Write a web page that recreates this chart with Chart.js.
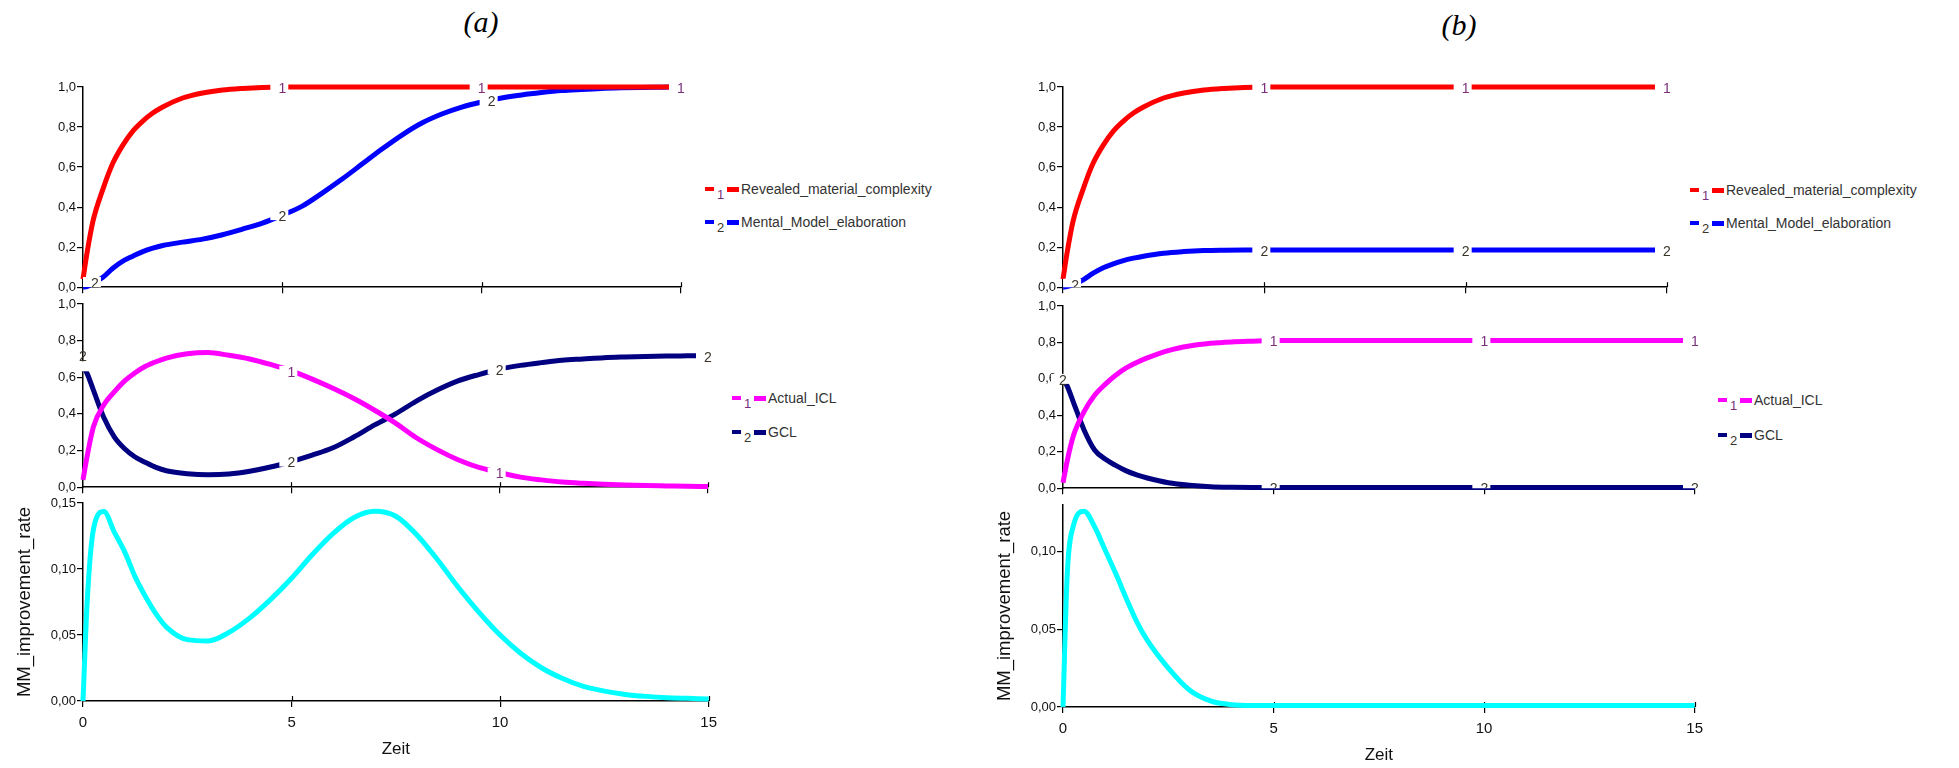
<!DOCTYPE html>
<html>
<head>
<meta charset="utf-8">
<script src="https://cdn.jsdelivr.net/npm/chart.js@4.4.1/dist/chart.umd.min.js"></script>
<style>
  body { margin:0; background:#fff; width:1959px; height:768px; position:relative; overflow:hidden; font-family:"Liberation Sans", Arial, sans-serif; }
  .box { position:absolute; }
  .panel-title { position:absolute; font: italic 30px "Liberation Serif", "Times New Roman", serif; transform: translate(-50%, -50%); color:#000; }
  .legend { position:absolute; font-size:14px; color:#333; white-space:nowrap; transform: translateY(-50%); display:flex; align-items:center; }
  .legend .d1 { display:inline-block; width:9px; height:4px; }
  .legend .n { display:inline-block; width:13px; text-align:center; font-size:13px; position:relative; top:5px; }
  .legend .d2 { display:inline-block; width:12px; height:5px; margin-right:2px; }
</style>
</head>
<body>
<div class="panel-title" style="left:481px;top:22px">(a)</div>
<div class="panel-title" style="left:1459px;top:25px">(b)</div>
<script>
// time axis (Zeit) and tick values
const time = [0, 0.1, 0.25, 0.5, 0.75, 1, 1.25, 1.5, 1.75, 2, 2.5, 3, 3.5, 4, 4.5, 5, 5.5, 6, 6.5, 7, 7.5, 8, 8.5, 9, 9.5, 10, 10.5, 11, 11.5, 12, 12.5, 13, 13.5, 14, 14.5, 15];
const xTicks = [0, 5, 10, 15];
const unitTicks = [0, 0.2, 0.4, 0.6, 0.8, 1.0];
const rateTicksA = [0, 0.05, 0.10, 0.15];
const rateTicksB = [0, 0.05, 0.10];

// panel (a)
const revealedA = [0.04, 0.17, 0.33, 0.49, 0.62, 0.71, 0.78, 0.83, 0.87, 0.90, 0.945, 0.97, 0.985, 0.993, 0.998, 1, 1, 1, 1, 1, 1, 1, 1, 1, 1, 1, 1, 1, 1, 1, 1, 1, 1, 1, 1, 1];
const elaborationA = [0, 0.003, 0.02, 0.05, 0.095, 0.13, 0.155, 0.178, 0.195, 0.208, 0.225, 0.24, 0.262, 0.29, 0.32, 0.36, 0.405, 0.47, 0.54, 0.615, 0.69, 0.76, 0.82, 0.865, 0.90, 0.925, 0.945, 0.96, 0.972, 0.982, 0.988, 0.993, 0.996, 0.998, 0.999, 1.0];
const actualIclA = [0.04, 0.17, 0.33, 0.45, 0.52, 0.58, 0.625, 0.66, 0.685, 0.705, 0.728, 0.735, 0.72, 0.70, 0.67, 0.635, 0.59, 0.54, 0.484, 0.42, 0.35, 0.27, 0.205, 0.15, 0.108, 0.08, 0.055, 0.04, 0.028, 0.021, 0.016, 0.012, 0.009, 0.007, 0.005, 0.004];
const gclA = [0.66, 0.62, 0.53, 0.38, 0.275, 0.21, 0.165, 0.135, 0.108, 0.09, 0.074, 0.068, 0.072, 0.087, 0.11, 0.14, 0.175, 0.215, 0.274, 0.34, 0.40, 0.47, 0.53, 0.58, 0.615, 0.645, 0.665, 0.68, 0.693, 0.70, 0.707, 0.711, 0.714, 0.716, 0.717, 0.718];
const rateA = [0, 0.075, 0.13, 0.1435, 0.128, 0.113, 0.094, 0.079, 0.066, 0.056, 0.0465, 0.0455, 0.052, 0.063, 0.077, 0.093, 0.111, 0.127, 0.139, 0.1437, 0.14, 0.126, 0.107, 0.086, 0.067, 0.05, 0.036, 0.025, 0.017, 0.011, 0.0075, 0.005, 0.0035, 0.0025, 0.002, 0.0015];

// panel (b)
const revealedB = [0.04, 0.17, 0.33, 0.49, 0.62, 0.71, 0.78, 0.83, 0.87, 0.90, 0.945, 0.97, 0.985, 0.993, 0.998, 1, 1, 1, 1, 1, 1, 1, 1, 1, 1, 1, 1, 1, 1, 1, 1, 1, 1, 1, 1, 1];
const elaborationB = [0, 0.003, 0.012, 0.037, 0.07, 0.097, 0.117, 0.133, 0.145, 0.155, 0.17, 0.178, 0.183, 0.185, 0.186, 0.186, 0.186, 0.186, 0.186, 0.186, 0.186, 0.186, 0.186, 0.186, 0.186, 0.186, 0.186, 0.186, 0.186, 0.186, 0.186, 0.186, 0.186, 0.186, 0.186, 0.186];
const actualIclB = [0.03, 0.15, 0.29, 0.42, 0.51, 0.57, 0.62, 0.66, 0.69, 0.715, 0.755, 0.78, 0.795, 0.803, 0.807, 0.81, 0.81, 0.81, 0.81, 0.81, 0.81, 0.81, 0.81, 0.81, 0.81, 0.81, 0.81, 0.81, 0.81, 0.81, 0.81, 0.81, 0.81, 0.81, 0.81, 0.81];
const gclB = [0.60, 0.56, 0.47, 0.32, 0.21, 0.16, 0.125, 0.095, 0.073, 0.056, 0.03, 0.016, 0.008, 0.005, 0.004, 0.004, 0.004, 0.004, 0.004, 0.004, 0.004, 0.004, 0.004, 0.004, 0.004, 0.004, 0.004, 0.004, 0.004, 0.004, 0.004, 0.004, 0.004, 0.004, 0.004, 0.004];
const rateB = [0, 0.085, 0.117, 0.126, 0.116, 0.101, 0.086, 0.07, 0.055, 0.043, 0.025, 0.011, 0.004, 0.0015, 0.001, 0.001, 0.001, 0.001, 0.001, 0.001, 0.001, 0.001, 0.001, 0.001, 0.001, 0.001, 0.001, 0.001, 0.001, 0.001, 0.001, 0.001, 0.001, 0.001, 0.001, 0.001];

const RED = '#ff0000', BLUE = '#0000ff', MAGENTA = '#ff00ff', NAVY = '#000080', CYAN = '#00ffff';
const NUM1 = '#7b2f7b', NUM2 = '#3a3428';
const FONT = '"Liberation Sans", Arial, sans-serif';

function points(values) {
    return time.map((t, i) => ({x: t, y: values[i]}));
}

function interp(data, t) {
    for (let i = 1; i < data.length; i++) {
        if (t <= data[i].x) {
            let a = data[i-1], b = data[i];
            return a.y + (b.y - a.y) * (t - a.x) / (b.x - a.x);
        }
    }
    return data[data.length-1].y;
}

// numbered markers on the curves, with a small gap cut in the line
const curveLabels = {
    id: 'curveLabels',
    afterDatasetsDraw(chart, args, opts) {
        let marks = opts.marks || [];
        let {ctx, chartArea: a, scales: {x, y}} = chart;
        ctx.save();
        ctx.beginPath();
        ctx.rect(a.left - 20, a.top - 20, a.right - a.left + 40, a.bottom - a.top + 20);
        ctx.clip();
        ctx.font = '14px ' + FONT;
        ctx.textAlign = 'center';
        ctx.textBaseline = 'middle';
        for (let m of marks) {
            let ds = chart.data.datasets[m.series];
            for (let t of m.at) {
                let px = x.getPixelForValue(t);
                let py = y.getPixelForValue(interp(ds.data, t));
                let dy = (t === 0 && m.dy0) ? m.dy0 : 0;
                ctx.fillStyle = '#fff';
                ctx.fillRect(px - 12, py - 5, 18, 10);
                ctx.fillStyle = m.color;
                ctx.fillText(m.text, px, py + 2 + dy);
            }
        }
        ctx.restore();
    }
};

// x ticks that cross the axis line
const crossTicks = {
    id: 'crossTicks',
    beforeDatasetsDraw(chart) {
        let {ctx, chartArea: a, scales: {x}} = chart;
        ctx.save();
        ctx.strokeStyle = '#000';
        ctx.lineWidth = 1.2;
        for (let v of xTicks.slice(1)) {
            let px = Math.round(x.getPixelForValue(v)) + 0.5;
            ctx.beginPath();
            ctx.moveTo(px, a.bottom - 5);
            ctx.lineTo(px, a.bottom);
            ctx.stroke();
        }
        ctx.restore();
    }
};

function makeChart(plot, cfg) {
    let div = document.createElement('div');
    div.className = 'box';
    div.style.left = (plot.l - 80) + 'px';
    div.style.top = (plot.t - 10) + 'px';
    div.style.width = (plot.r - plot.l + 90) + 'px';
    div.style.height = (plot.b - plot.t + 10 + plot.xh) + 'px';
    let canvas = document.createElement('canvas');
    div.appendChild(canvas);
    document.body.appendChild(div);

    let grid = {drawOnChartArea: false, drawTicks: true, tickLength: 6, color: '#000', lineWidth: 1.2};
    let border = {color: '#000', width: 1.5};
    new Chart(canvas, {
        type: 'line',
        data: {
            datasets: cfg.series.map(s => ({
                label: s.name,
                data: points(s.values),
                borderColor: s.color,
                borderWidth: 5,
                pointRadius: 0,
                fill: false,
                clip: 8,
                cubicInterpolationMode: 'monotone'
            }))
        },
        options: {
            responsive: true,
            maintainAspectRatio: false,
            animation: false,
            layout: {padding: {top: 10, right: 10, left: 0, bottom: 0}},
            plugins: {
                legend: {display: false},
                tooltip: {enabled: false},
                curveLabels: {marks: cfg.marks || []}
            },
            scales: {
                x: {
                    type: 'linear', min: 0, max: 15,
                    afterBuildTicks: s => { s.ticks = xTicks.map(v => ({value: v})); },
                    afterFit: s => { s.height = plot.xh; },
                    grid: grid, border: border,
                    ticks: {display: !!cfg.xLabels, color: '#111', font: {size: 15, family: FONT}, padding: 7, maxRotation: 0, autoSkip: false},
                    title: {display: !!cfg.xLabels, text: 'Zeit', color: '#111', font: {size: 17, family: FONT}, padding: 0}
                },
                y: {
                    min: 0, max: cfg.ymax,
                    afterBuildTicks: s => { s.ticks = cfg.yTicks.map(v => ({value: v})); },
                    afterFit: s => { s.width = 80; },
                    grid: grid, border: border,
                    ticks: {color: '#111', font: {size: 13, family: FONT}, padding: 1,
                            callback: v => v.toFixed(cfg.dec).replace('.', ',')},
                    title: {display: !!cfg.ytitle, text: cfg.ytitle || '', color: '#111', font: {size: 18.5, family: FONT}, padding: {top: 11, bottom: 0}}
                }
            }
        },
        plugins: [crossTicks, curveLabels]
    });
}

function makeLegend(left, rows) {
    for (let r of rows) {
        let el = document.createElement('div');
        el.className = 'legend';
        el.style.left = left + 'px';
        el.style.top = r.y + 'px';
        el.innerHTML = `<span class="d1" style="background:${r.color}"></span>` +
            `<span class="n" style="color:${r.num === '1' ? NUM1 : NUM2}">${r.num}</span>` +
            `<span class="d2" style="background:${r.color}"></span><span>${r.name}</span>`;
        document.body.appendChild(el);
    }
}

// panel (a)
makeChart({l: 83, t: 87, r: 681, b: 288, xh: 8}, {
    ymax: 1, yTicks: unitTicks, dec: 1,
    series: [{name: 'Revealed_material_complexity', values: revealedA, color: RED},
             {name: 'Mental_Model_elaboration', values: elaborationA, color: BLUE}],
    marks: [{series: 1, text: '2', color: NUM2, at: [0.3, 5, 10.25]},
            {series: 0, text: '1', color: NUM1, at: [5, 10, 15]}]
});
makeChart({l: 83, t: 304, r: 708, b: 488, xh: 8}, {
    ymax: 1, yTicks: unitTicks, dec: 1,
    series: [{name: 'Actual_ICL', values: actualIclA, color: MAGENTA},
             {name: 'GCL', values: gclA, color: NAVY}],
    marks: [{series: 0, text: '1', color: NUM1, at: [5, 10]},
            {series: 1, text: '2', color: NUM2, at: [0, 5, 10, 15], dy0: -11}]
});
makeChart({l: 83, t: 503, r: 714, b: 701, xh: 59}, {
    ymax: 0.15, yTicks: rateTicksA, dec: 2, xLabels: true, ytitle: 'MM_improvement_rate',
    series: [{name: 'MM_improvement_rate', values: rateA, color: CYAN}]
});
makeLegend(705, [{y: 189, color: RED, num: '1', name: 'Revealed_material_complexity'},
                 {y: 222, color: BLUE, num: '2', name: 'Mental_Model_elaboration'}]);
makeLegend(732, [{y: 398, color: MAGENTA, num: '1', name: 'Actual_ICL'},
                 {y: 432, color: NAVY, num: '2', name: 'GCL'}]);

// panel (b)
makeChart({l: 1063, t: 87, r: 1667, b: 288, xh: 8}, {
    ymax: 1, yTicks: unitTicks, dec: 1,
    series: [{name: 'Revealed_material_complexity', values: revealedB, color: RED},
             {name: 'Mental_Model_elaboration', values: elaborationB, color: BLUE}],
    marks: [{series: 1, text: '2', color: NUM2, at: [0.3, 5, 10, 15]},
            {series: 0, text: '1', color: NUM1, at: [5, 10, 15]}]
});
makeChart({l: 1063, t: 306, r: 1695, b: 489, xh: 8}, {
    ymax: 1, yTicks: unitTicks, dec: 1,
    series: [{name: 'Actual_ICL', values: actualIclB, color: MAGENTA},
             {name: 'GCL', values: gclB, color: NAVY}],
    marks: [{series: 0, text: '1', color: NUM1, at: [5, 10, 15]},
            {series: 1, text: '2', color: NUM2, at: [0, 5, 10, 15]}]
});
makeChart({l: 1063, t: 505, r: 1700, b: 707, xh: 59}, {
    ymax: 0.13, yTicks: rateTicksB, dec: 2, xLabels: true, ytitle: 'MM_improvement_rate',
    series: [{name: 'MM_improvement_rate', values: rateB, color: CYAN}]
});
makeLegend(1690, [{y: 190, color: RED, num: '1', name: 'Revealed_material_complexity'},
                  {y: 223, color: BLUE, num: '2', name: 'Mental_Model_elaboration'}]);
makeLegend(1718, [{y: 400, color: MAGENTA, num: '1', name: 'Actual_ICL'},
                  {y: 435, color: NAVY, num: '2', name: 'GCL'}]);
</script>
</body>
</html>
